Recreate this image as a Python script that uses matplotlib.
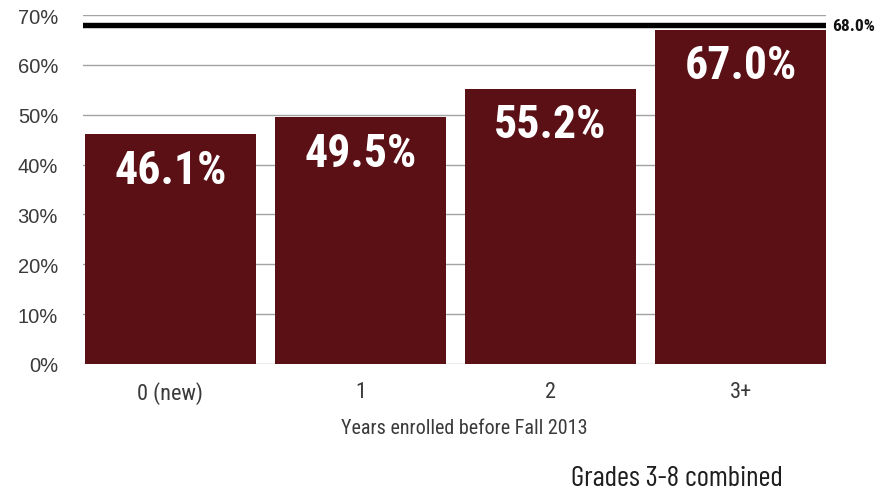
import matplotlib
matplotlib.use("Agg")
import matplotlib.pyplot as plt
import logging

logging.getLogger("matplotlib.font_manager").setLevel(logging.ERROR)

categories = ["0 (new)", "1", "2", "3+"]
values = [46.1, 49.5, 55.2, 67.0]
target = 68.0
yticks = [0, 10, 20, 30, 40, 50, 60, 70]

bar_color = "#5b1016"
text_gray = "#3a3a3a"
cond = ["Roboto Condensed", "IBM Plex Sans Condensed", "DejaVu Sans"]
din = ["Barlow Condensed", "Pathway Gothic One", "Oswald", "Roboto Condensed",
       "IBM Plex Sans Condensed", "DejaVu Sans"]
plain = ["Liberation Sans", "DejaVu Sans"]

fig = plt.figure(figsize=(8.86, 5.02), dpi=100)
ax = fig.add_axes([0.0937, 0.273, 0.8386, 0.695])

x = list(range(len(categories)))
ax.bar(x, values, width=0.9, color=bar_color, zorder=2)
ax.set_xlim(-0.46, 3.45)
ax.set_ylim(0, 70)

ax.set_yticks(yticks)
ax.set_yticklabels([f"{t}%" for t in yticks], fontsize=14.5, color=text_gray,
                   family=plain)
ax.yaxis.grid(True, color="#a3a3a3", linewidth=1.0, zorder=0)
ax.set_axisbelow(True)
ax.tick_params(axis="y", length=0, pad=18)

ax.set_xticks(x)
ax.set_xticklabels(categories, fontsize=16, color=text_gray, family=cond)
ax.tick_params(axis="x", length=0, pad=12)
ax.set_xlabel("Years enrolled before Fall 2013", fontsize=14.5, color=text_gray,
              family=cond)
ax.xaxis.set_label_coords(0.513, -0.156)

for s in ax.spines.values():
    s.set_visible(False)

ax.axhline(target, color="black", linewidth=3.9, zorder=3)
ax.text(1.008, target, f"{target:.1f}%", transform=ax.get_yaxis_transform(),
        ha="left", va="center", fontsize=12.5, fontweight="bold",
        color="#111111", family=cond)

for xi, v in zip(x, values):
    ax.text(xi, v - 9.7, f"{v:.1f}%", ha="center", va="baseline", color="white",
            fontsize=33, fontweight="bold", family=cond, zorder=4)

fig.text(0.645, 0.032, "Grades 3-8 combined", fontsize=21, color="#1e1e1e",
         family=din, ha="left", va="baseline")

fig.savefig("out.png", dpi=100)
